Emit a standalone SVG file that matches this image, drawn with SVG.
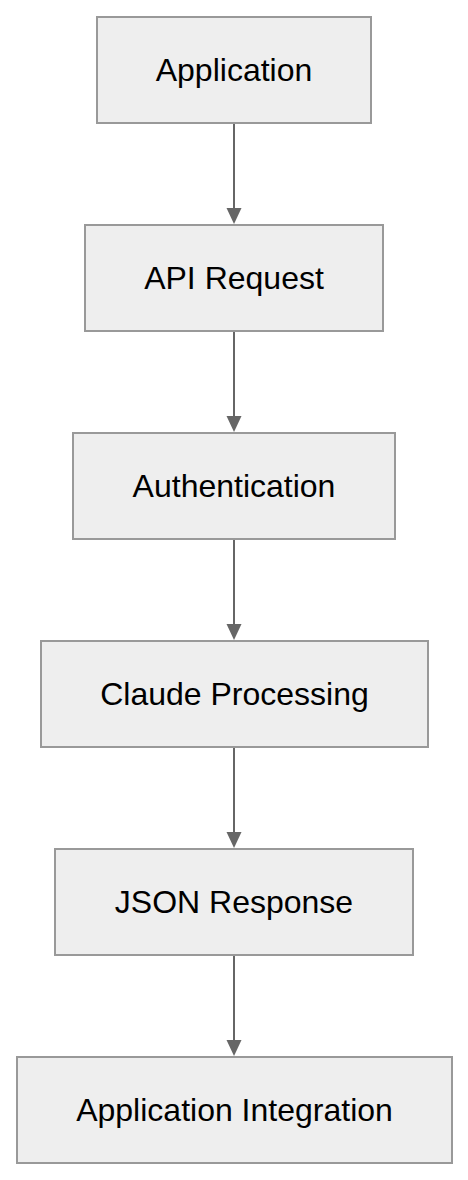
<svg xmlns="http://www.w3.org/2000/svg" width="468" height="1180" viewBox="0 0 468 1180">
  <style>
    .box { fill: #eeeeee; stroke: #999999; stroke-width: 2; }
    .lbl { font-family: "Liberation Sans", Arial, sans-serif; font-size: 32px; fill: #000000; text-anchor: middle; }
    .edge { stroke: #666666; stroke-width: 2; fill: none; }
    .head { fill: #666666; }
  </style>
  <rect x="0" y="0" width="468" height="1180" fill="#ffffff"/>
  <g id="connectors">
    <line class="edge" x1="234" y1="124" x2="234" y2="210"/>
    <polygon class="head" points="226.5,208 241.5,208 234,224"/>
    <line class="edge" x1="234" y1="332" x2="234" y2="418"/>
    <polygon class="head" points="226.5,416 241.5,416 234,432"/>
    <line class="edge" x1="234" y1="540" x2="234" y2="626"/>
    <polygon class="head" points="226.5,624 241.5,624 234,640"/>
    <line class="edge" x1="234" y1="748" x2="234" y2="834"/>
    <polygon class="head" points="226.5,832 241.5,832 234,848"/>
    <line class="edge" x1="234" y1="956" x2="234" y2="1042"/>
    <polygon class="head" points="226.5,1040 241.5,1040 234,1056"/>
  </g>
  <g id="node-application">
    <rect class="box" x="97" y="17" width="274" height="106"/>
    <text class="lbl" x="234" y="81">Application</text>
  </g>
  <g id="node-api-request">
    <rect class="box" x="85" y="225" width="298" height="106"/>
    <text class="lbl" x="234" y="289">API Request</text>
  </g>
  <g id="node-authentication">
    <rect class="box" x="73" y="433" width="322" height="106"/>
    <text class="lbl" x="234" y="497">Authentication</text>
  </g>
  <g id="node-claude-processing">
    <rect class="box" x="41" y="641" width="387" height="106"/>
    <text class="lbl" x="234.5" y="705">Claude Processing</text>
  </g>
  <g id="node-json-response">
    <rect class="box" x="55" y="849" width="358" height="106"/>
    <text class="lbl" x="234" y="913">JSON Response</text>
  </g>
  <g id="node-application-integration">
    <rect class="box" x="17" y="1057" width="435" height="106"/>
    <text class="lbl" x="234.5" y="1121">Application Integration</text>
  </g>
</svg>
